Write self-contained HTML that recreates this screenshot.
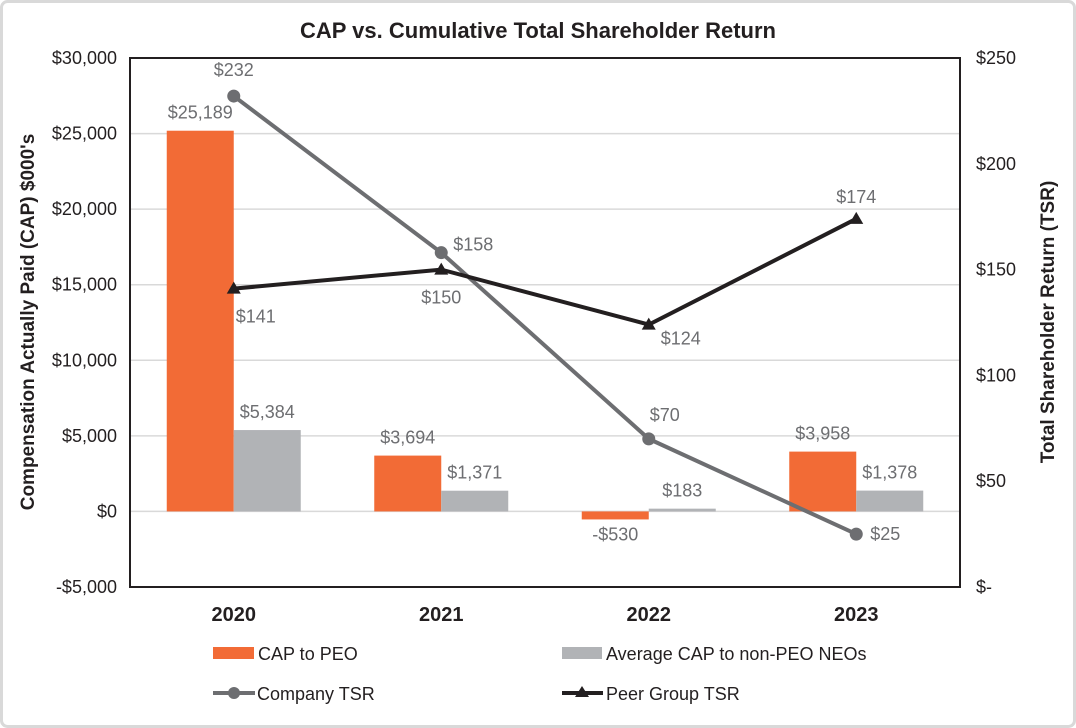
<!DOCTYPE html>
<html><head><meta charset="utf-8"><style>
html,body{margin:0;padding:0;background:#fff;}
svg{display:block;font-family:"Liberation Sans",Arial,sans-serif;}
</style></head><body>
<svg id="chart" width="1076" height="728" viewBox="0 0 1076 728">
<rect x="1.5" y="1.5" width="1073" height="725" rx="6" fill="#fff" stroke="#d9d9d9" stroke-width="3"/>
<text x="538" y="38" text-anchor="middle" font-size="22" font-weight="bold" fill="#231f20">CAP vs. Cumulative Total Shareholder Return</text>
<g id="grid"></g>
<g id="bars"></g>
<g id="lines"></g>
<rect x="130" y="58" width="830" height="529" fill="none" stroke="#231f20" stroke-width="2"/>
<g id="axes"></g>
<text transform="translate(34,322) rotate(-90)" text-anchor="middle" font-size="19" font-weight="bold" fill="#231f20">Compensation Actually Paid (CAP) $000's</text>
<text transform="translate(1054,322) rotate(-90)" text-anchor="middle" font-size="19" font-weight="bold" fill="#231f20">Total Shareholder Return (TSR)</text>
<g>
<g><rect x="213" y="647" width="41" height="12" fill="#f26b36"/><text x="258" y="660" font-size="18" fill="#231f20">CAP to PEO</text></g>
<g><rect x="562" y="647" width="40" height="12" fill="#b1b3b6"/><text x="606" y="660" font-size="18" fill="#231f20">Average CAP to non-PEO NEOs</text></g>
<g><line x1="213" y1="693" x2="255" y2="693" stroke="#6d6e71" stroke-width="4"/><circle cx="234" cy="693" r="6" fill="#6d6e71"/><text x="257" y="700" font-size="18" fill="#231f20">Company TSR</text></g>
<g><line x1="562" y1="693" x2="603" y2="693" stroke="#231f20" stroke-width="4"/><polygon points="582,686 589,697 575,697" fill="#231f20"/><text x="606" y="700" font-size="18" fill="#231f20">Peer Group TSR</text></g>
</g>
</svg>
<script>
const categories = ["2020","2021","2022","2023"];
const capPeo = [25189, 3694, -530, 3958];
const capNeo = [5384, 1371, 183, 1378];
const companyTsr = [232, 158, 70, 25];
const peerTsr = [141, 150, 124, 174];
const leftTicks = [-5000,0,5000,10000,15000,20000,25000,30000];
const leftTickLabels = ["-$5,000","$0","$5,000","$10,000","$15,000","$20,000","$25,000","$30,000"];
const rightTicks = [0,50,100,150,200,250];
const rightTickLabels = ["$-","$50","$100","$150","$200","$250"];

const NS="http://www.w3.org/2000/svg";
const X0=130,X1=960,YT=58,YB=587;
const yL=v=>YB-(v+5000)/35000*(YB-YT);
const yR=v=>YB-v/250*(YB-YT);
const band=(X1-X0)/categories.length;
const xC=i=>X0+band*(i+0.5);
const BW=67;
function mk(tag,attrs,parent,txt){const e=document.createElementNS(NS,tag);for(const k in attrs)e.setAttribute(k,attrs[k]);if(txt!==undefined)e.textContent=txt;parent.appendChild(e);return e;}
const grid=document.getElementById('grid'),axes=document.getElementById('axes'),bars=document.getElementById('bars'),lines=document.getElementById('lines');
const fmt=v=>(v<0?"-$":"$")+Math.abs(v).toLocaleString("en-US");
leftTicks.forEach((t,i)=>{
  const y=yL(t);
  const g=mk('line',{x1:X0,x2:X1,y1:y,y2:y,stroke:'#d9d9d9','stroke-width':1.5},grid);
  
  
  const tx=mk('text',{x:117,y:y+6,'text-anchor':'end','font-size':18,fill:'#231f20'},axes,leftTickLabels[i]);
  
  
});
rightTicks.forEach((t,i)=>{
  const tx=mk('text',{x:976,y:yR(t)+6,'font-size':18,fill:'#231f20'},axes,rightTickLabels[i]);
  
  
});
categories.forEach((c,i)=>{
  const tx=mk('text',{x:xC(i),y:621,'text-anchor':'middle','font-size':20,'font-weight':'bold',fill:'#231f20'},axes,c);
  
  
  const v=capPeo[i],y0=yL(0),y=yL(v);
  const b=mk('rect',{x:xC(i)-BW,y:Math.min(y,y0),width:BW,height:Math.abs(y0-y),fill:'#f26b36'},bars);
  
  
  const l=mk('text',{x:xC(i)-BW/2,y:v<0?y+21:y-12,'text-anchor':'middle','font-size':18,fill:'#6d6e71'},bars,fmt(v));
  
  
  const v2=capNeo[i],y2=yL(v2);
  const b2=mk('rect',{x:xC(i),y:Math.min(y2,y0),width:BW,height:Math.max(Math.abs(y0-y2),1),fill:'#b1b3b6'},bars);
  
  
  const l2=mk('text',{x:xC(i)+BW/2,y:y2-12,'text-anchor':'middle','font-size':18,fill:'#6d6e71'},bars,fmt(v2));
  
  
});
const cp=mk('polyline',{points:companyTsr.map((v,i)=>xC(i)+','+yR(v)).join(' '),fill:'none',stroke:'#6d6e71','stroke-width':4},lines);


const pp=mk('polyline',{points:peerTsr.map((v,i)=>xC(i)+','+yR(v)).join(' '),fill:'none',stroke:'#231f20','stroke-width':4},lines);


const cOff=[[0,-20,'middle'],[12,-2,'start'],[0,-18,'middle'],[14,6,'start']];
companyTsr.forEach((v,i)=>{
  const x=xC(i),y=yR(v);
  const c=mk('circle',{cx:x,cy:y,r:6.5,fill:'#6d6e71'},lines);
  
  
  const t=mk('text',{x:x+cOff[i][0]+(i==2?16:0),y:y+cOff[i][1],'text-anchor':cOff[i][2],'font-size':18,fill:'#6d6e71'},lines,'$'+v);
  
  
});
const pOff=[[2,34,'start'],[0,34,'middle'],[12,20,'start'],[0,-16,'middle']];
peerTsr.forEach((v,i)=>{
  const x=xC(i),y=yR(v);
  const p=mk('polygon',{points:`${x},${y-7} ${x+7},${y+5} ${x-7},${y+5}`,fill:'#231f20'},lines);
  
  
  const t=mk('text',{x:x+pOff[i][0],y:y+pOff[i][1],'text-anchor':pOff[i][2],'font-size':18,fill:'#6d6e71'},lines,'$'+v);
  
  
});
</script>
</body></html>
